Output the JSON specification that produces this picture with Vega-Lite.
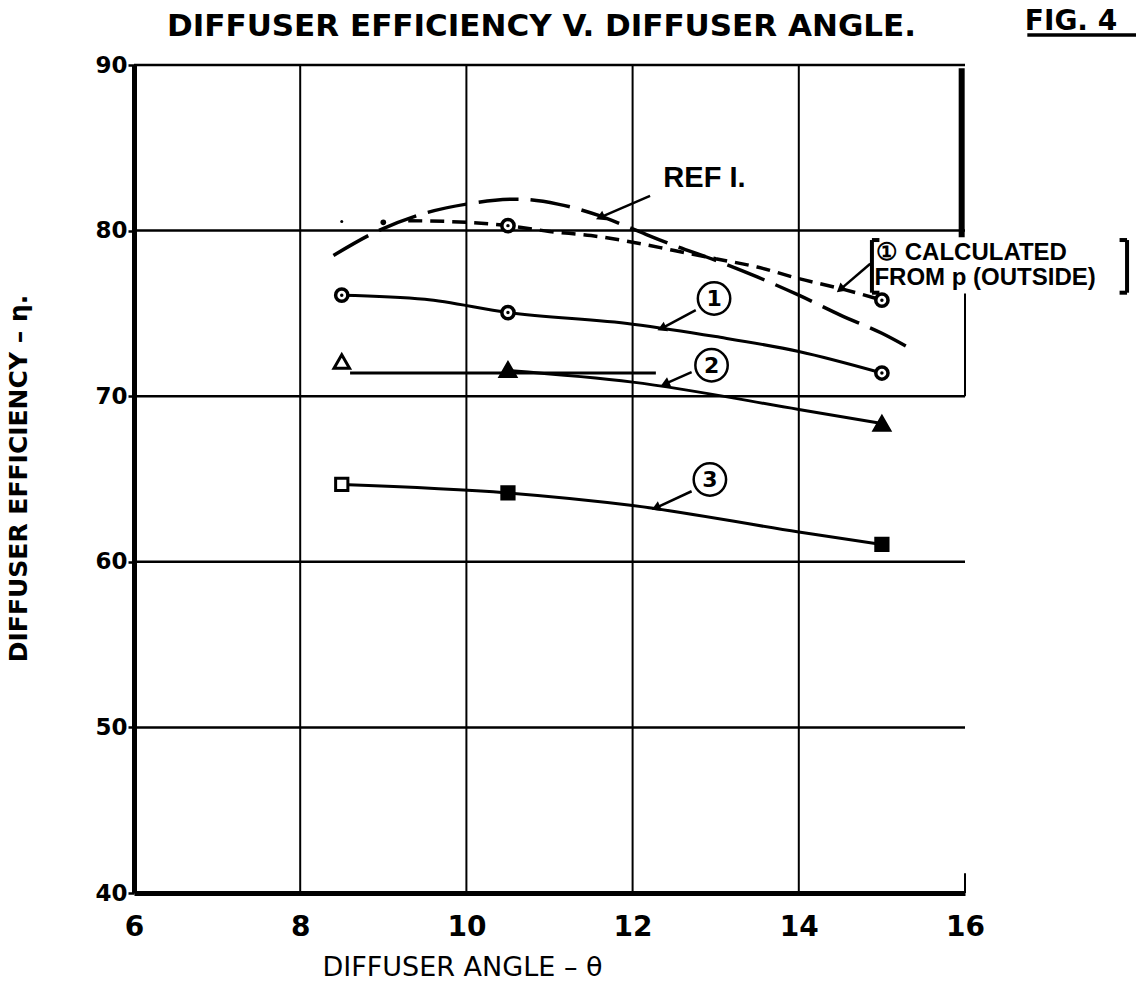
{
  "$schema": "https://vega.github.io/schema/vega-lite/v6.json",
  "width": 831,
  "height": 828,
  "autosize": {"type": "none"},
  "padding": {"left": 134, "top": 65, "right": 171, "bottom": 94},
  "background": "white",
  "datasets": {
    "gridx": [{"angle": 8}, {"angle": 10}, {"angle": 12}, {"angle": 14}],
    "gridy": [{"eff": 50}, {"eff": 60}, {"eff": 70}, {"eff": 80}, {"eff": 90}],
    "edge": [{"angle": 16, "eff": 70, "eff2": 76.2}, {"angle": 16, "eff": 40, "eff2": 41.2}],
    "bar": [{"angle": 15.96, "eff": 79.6, "eff2": 89.8}],
    "curves": [
      {"series": "1", "angle": 8.5, "eff": 76.1},
      {"series": "1", "angle": 9.5, "eff": 75.85},
      {"series": "1", "angle": 10.5, "eff": 75.05},
      {"series": "1", "angle": 12, "eff": 74.35},
      {"series": "1", "angle": 13, "eff": 73.6},
      {"series": "1", "angle": 14, "eff": 72.7},
      {"series": "1", "angle": 15, "eff": 71.4},
      {"series": "2", "angle": 10.5, "eff": 71.55},
      {"series": "2", "angle": 12, "eff": 70.85},
      {"series": "2", "angle": 14, "eff": 69.2},
      {"series": "2", "angle": 15, "eff": 68.35},
      {"series": "2h", "angle": 8.6, "eff": 71.4},
      {"series": "2h", "angle": 12.28, "eff": 71.4},
      {"series": "3", "angle": 8.5, "eff": 64.67},
      {"series": "3", "angle": 10.5, "eff": 64.16},
      {"series": "3", "angle": 12, "eff": 63.4},
      {"series": "3", "angle": 14, "eff": 61.8},
      {"series": "3", "angle": 15, "eff": 61.05}
    ],
    "ref": [
      {"angle": 8.4, "eff": 78.5},
      {"angle": 8.9, "eff": 79.9},
      {"angle": 9.4, "eff": 80.9},
      {"angle": 10.0, "eff": 81.6},
      {"angle": 10.6, "eff": 81.9},
      {"angle": 11.1, "eff": 81.6},
      {"angle": 11.6, "eff": 80.9},
      {"angle": 12.0, "eff": 80.1},
      {"angle": 12.5, "eff": 79.1},
      {"angle": 13.0, "eff": 78.2},
      {"angle": 13.5, "eff": 77.2},
      {"angle": 14.0, "eff": 76.1},
      {"angle": 14.5, "eff": 74.9},
      {"angle": 15.0, "eff": 73.8},
      {"angle": 15.3, "eff": 73.0}
    ],
    "calc": [
      {"angle": 9.3, "eff": 80.6},
      {"angle": 10.0, "eff": 80.5},
      {"angle": 10.5, "eff": 80.3},
      {"angle": 11.0, "eff": 79.95},
      {"angle": 11.5, "eff": 79.7},
      {"angle": 12.0, "eff": 79.3},
      {"angle": 12.5, "eff": 78.8},
      {"angle": 13.0, "eff": 78.3},
      {"angle": 13.5, "eff": 77.8},
      {"angle": 14.0, "eff": 77.1},
      {"angle": 14.5, "eff": 76.5},
      {"angle": 15.0, "eff": 75.8}
    ],
    "points": [
      {"series": "1", "angle": 8.5, "eff": 76.1},
      {"series": "1", "angle": 10.5, "eff": 75.05},
      {"series": "1", "angle": 15, "eff": 71.4},
      {"series": "2", "angle": 8.5, "eff": 72.1},
      {"series": "2", "angle": 10.5, "eff": 71.6},
      {"series": "2", "angle": 15, "eff": 68.35},
      {"series": "3", "angle": 8.5, "eff": 64.67},
      {"series": "3", "angle": 10.5, "eff": 64.16},
      {"series": "3", "angle": 15, "eff": 61.05},
      {"series": "calc", "angle": 10.5, "eff": 80.3},
      {"series": "calc", "angle": 15, "eff": 75.8}
    ],
    "calcdots": [
      {"kind": "big", "angle": 9.0, "eff": 80.5},
      {"kind": "small", "angle": 8.5, "eff": 80.55}
    ],
    "labels": [
      {"label": "1", "angle": 12.98, "eff": 75.9},
      {"label": "2", "angle": 12.95, "eff": 71.87},
      {"label": "3", "angle": 12.93, "eff": 64.97}
    ],
    "leaders": [
      {"name": "ref", "angle": 12.21, "eff": 82.1, "angle2": 11.61, "eff2": 80.8},
      {"name": "1", "angle": 12.76, "eff": 75.2, "angle2": 12.35, "eff2": 74.1},
      {"name": "2", "angle": 12.71, "eff": 71.46, "angle2": 12.39, "eff2": 70.75},
      {"name": "3", "angle": 12.71, "eff": 64.26, "angle2": 12.28, "eff2": 63.25},
      {"name": "calc", "angle": 14.86, "eff": 78.0, "angle2": 14.5, "eff2": 76.45}
    ],
    "titletext": [{"note": "DIFFUSER EFFICIENCY V. DIFFUSER ANGLE.", "angle": 10.904, "eff": 91.75}],
    "refnote": [{"note": "REF I.", "angle": 12.37, "eff": 82.63}],
    "calcnote": [
      {"note": "① CALCULATED", "angle": 14.93, "eff": 78.22},
      {"note": "FROM p (OUTSIDE)", "angle": 14.91, "eff": 76.71}
    ],
    "brackets": [
      {"angle": 14.88, "eff": 76.25, "angle2": 14.88, "eff2": 79.43},
      {"angle": 14.88, "eff": 79.43, "angle2": 14.97, "eff2": 79.43},
      {"angle": 14.88, "eff": 76.25, "angle2": 14.97, "eff2": 76.25},
      {"angle": 17.95, "eff": 76.25, "angle2": 17.95, "eff2": 79.43},
      {"angle": 17.86, "eff": 79.43, "angle2": 17.95, "eff2": 79.43},
      {"angle": 17.86, "eff": 76.25, "angle2": 17.95, "eff2": 76.25}
    ],
    "fig": [{"note": "FIG. 4", "angle": 16.72, "eff": 92.11}],
    "figline": [{"angle": 16.75, "angle2": 18.6, "eff": 91.81}]
  },
  "layer": [
    {
      "data": {"name": "gridx"},
      "mark": {"type": "rule", "stroke": "black", "strokeWidth": 2},
      "encoding": {
        "x": {
          "field": "angle", "type": "quantitative",
          "scale": {"domain": [6, 16], "nice": false, "zero": false},
          "axis": {
            "values": [6, 8, 10, 12, 14, 16],
            "format": "d",
            "title": "DIFFUSER ANGLE – θ",
            "grid": false, "ticks": false,
            "domainWidth": 5, "domainColor": "black",
            "labelFont": "DejaVu Sans", "labelFontWeight": "bold", "labelFontSize": 28,
            "labelColor": "black", "labelPadding": 20, "labelFlush": false, "labelOverlap": false,
            "titleFont": "DejaVu Sans", "titleFontWeight": "normal", "titleFontSize": 27,
            "titleColor": "black", "titleX": 328, "titleY": 82,
            "titleBaseline": "alphabetic", "titleAlign": "center"
          }
        }
      }
    },
    {
      "data": {"name": "gridy"},
      "mark": {"type": "rule", "stroke": "black", "strokeWidth": 2.5},
      "encoding": {
        "y": {
          "field": "eff", "type": "quantitative",
          "scale": {"domain": [40, 90], "nice": false, "zero": false},
          "axis": {
            "values": [40, 50, 60, 70, 80, 90],
            "title": "DIFFUSER EFFICIENCY – η.",
            "grid": false, "ticks": true, "tickSize": 6, "tickWidth": 2.5, "tickColor": "black",
            "domainWidth": 5, "domainColor": "black",
            "labelFont": "DejaVu Sans", "labelFontWeight": "bold", "labelFontSize": 23,
            "labelColor": "black", "labelPadding": 1, "labelFlush": false, "labelOverlap": false,
            "titleFont": "DejaVu Sans", "titleFontWeight": "bold", "titleFontSize": 25,
            "titleColor": "black", "titleX": -116, "titleY": 413, "titleAngle": -90,
            "titleAlign": "center", "titleBaseline": "middle"
          }
        }
      }
    },
    {
      "data": {"name": "edge"},
      "mark": {"type": "rule", "stroke": "black", "strokeWidth": 2},
      "encoding": {
        "x": {"field": "angle", "type": "quantitative", "scale": {"domain": [6, 16], "nice": false, "zero": false}},
        "y": {"field": "eff", "type": "quantitative", "scale": {"domain": [40, 90], "nice": false, "zero": false}},
        "y2": {"field": "eff2"}
      }
    },
    {
      "data": {"name": "bar"},
      "mark": {"type": "rule", "stroke": "black", "strokeWidth": 6},
      "encoding": {
        "x": {"field": "angle", "type": "quantitative", "scale": {"domain": [6, 16], "nice": false, "zero": false}},
        "y": {"field": "eff", "type": "quantitative", "scale": {"domain": [40, 90], "nice": false, "zero": false}},
        "y2": {"field": "eff2"}
      }
    },
    {
      "data": {"name": "curves"},
      "mark": {"type": "line", "stroke": "black", "strokeWidth": 3, "interpolate": "monotone"},
      "encoding": {
        "x": {"field": "angle", "type": "quantitative", "scale": {"domain": [6, 16], "nice": false, "zero": false}},
        "y": {"field": "eff", "type": "quantitative", "scale": {"domain": [40, 90], "nice": false, "zero": false}},
        "detail": {"field": "series", "type": "nominal"}
      }
    },
    {
      "data": {"name": "ref"},
      "mark": {"type": "line", "stroke": "black", "strokeWidth": 3.5, "strokeDash": [40, 12], "interpolate": "monotone"},
      "encoding": {
        "x": {"field": "angle", "type": "quantitative", "scale": {"domain": [6, 16], "nice": false, "zero": false}},
        "y": {"field": "eff", "type": "quantitative", "scale": {"domain": [40, 90], "nice": false, "zero": false}}
      }
    },
    {
      "data": {"name": "calc"},
      "mark": {"type": "line", "stroke": "black", "strokeWidth": 3.5, "strokeDash": [14, 8], "interpolate": "monotone"},
      "encoding": {
        "x": {"field": "angle", "type": "quantitative", "scale": {"domain": [6, 16], "nice": false, "zero": false}},
        "y": {"field": "eff", "type": "quantitative", "scale": {"domain": [40, 90], "nice": false, "zero": false}}
      }
    },
    {
      "data": {"name": "points"},
      "transform": [{"filter": "datum.series == '1' || datum.series == 'calc'"}],
      "mark": {"type": "point", "shape": "circle", "filled": true, "fill": "white", "stroke": "black", "strokeWidth": 3.5, "size": 150, "opacity": 1},
      "encoding": {
        "x": {"field": "angle", "type": "quantitative", "scale": {"domain": [6, 16], "nice": false, "zero": false}},
        "y": {"field": "eff", "type": "quantitative", "scale": {"domain": [40, 90], "nice": false, "zero": false}}
      }
    },
    {
      "data": {"name": "points"},
      "transform": [{"filter": "datum.series == '2'"}],
      "mark": {"type": "point", "shape": "triangle-up", "filled": true, "stroke": "black", "strokeWidth": 3, "size": 240, "opacity": 1},
      "encoding": {
        "x": {"field": "angle", "type": "quantitative", "scale": {"domain": [6, 16], "nice": false, "zero": false}},
        "y": {"field": "eff", "type": "quantitative", "scale": {"domain": [40, 90], "nice": false, "zero": false}},
        "fill": {"condition": {"test": "datum.angle > 9", "value": "black"}, "value": "white"}
      }
    },
    {
      "data": {"name": "points"},
      "transform": [{"filter": "datum.series == '3'"}],
      "mark": {"type": "point", "shape": "square", "filled": true, "stroke": "black", "strokeWidth": 3, "size": 150, "opacity": 1},
      "encoding": {
        "x": {"field": "angle", "type": "quantitative", "scale": {"domain": [6, 16], "nice": false, "zero": false}},
        "y": {"field": "eff", "type": "quantitative", "scale": {"domain": [40, 90], "nice": false, "zero": false}},
        "fill": {"condition": {"test": "datum.angle > 9", "value": "black"}, "value": "white"}
      }
    },
    {
      "data": {"name": "points"},
      "transform": [{"filter": "datum.series == '1' || datum.series == 'calc'"}],
      "mark": {"type": "point", "shape": "circle", "filled": true, "fill": "black", "size": 12, "opacity": 1},
      "encoding": {
        "x": {"field": "angle", "type": "quantitative", "scale": {"domain": [6, 16], "nice": false, "zero": false}},
        "y": {"field": "eff", "type": "quantitative", "scale": {"domain": [40, 90], "nice": false, "zero": false}}
      }
    },
    {
      "data": {"name": "calcdots"},
      "transform": [{"filter": "datum.kind == 'big'"}],
      "mark": {"type": "point", "shape": "circle", "filled": true, "fill": "black", "size": 32, "opacity": 1},
      "encoding": {
        "x": {"field": "angle", "type": "quantitative", "scale": {"domain": [6, 16], "nice": false, "zero": false}},
        "y": {"field": "eff", "type": "quantitative", "scale": {"domain": [40, 90], "nice": false, "zero": false}}
      }
    },
    {
      "data": {"name": "calcdots"},
      "transform": [{"filter": "datum.kind == 'small'"}],
      "mark": {"type": "point", "shape": "circle", "filled": true, "fill": "black", "size": 9, "opacity": 1},
      "encoding": {
        "x": {"field": "angle", "type": "quantitative", "scale": {"domain": [6, 16], "nice": false, "zero": false}},
        "y": {"field": "eff", "type": "quantitative", "scale": {"domain": [40, 90], "nice": false, "zero": false}}
      }
    },
    {
      "data": {"name": "leaders"},
      "mark": {"type": "rule", "stroke": "black", "strokeWidth": 2.5},
      "encoding": {
        "x": {"field": "angle", "type": "quantitative", "scale": {"domain": [6, 16], "nice": false, "zero": false}},
        "y": {"field": "eff", "type": "quantitative", "scale": {"domain": [40, 90], "nice": false, "zero": false}},
        "x2": {"field": "angle2"},
        "y2": {"field": "eff2"}
      }
    },
    {
      "data": {"name": "leaders"},
      "transform": [{"filter": "datum.name != 'calc'"}],
      "mark": {"type": "point", "shape": "triangle-up", "filled": true, "fill": "black", "size": 110, "angle": 246, "opacity": 1},
      "encoding": {
        "x": {"field": "angle2", "type": "quantitative", "scale": {"domain": [6, 16], "nice": false, "zero": false}},
        "y": {"field": "eff2", "type": "quantitative", "scale": {"domain": [40, 90], "nice": false, "zero": false}}
      }
    },
    {
      "data": {"name": "leaders"},
      "transform": [{"filter": "datum.name == 'calc'"}],
      "mark": {"type": "point", "shape": "triangle-up", "filled": true, "fill": "black", "size": 110, "angle": 230, "opacity": 1},
      "encoding": {
        "x": {"field": "angle2", "type": "quantitative", "scale": {"domain": [6, 16], "nice": false, "zero": false}},
        "y": {"field": "eff2", "type": "quantitative", "scale": {"domain": [40, 90], "nice": false, "zero": false}}
      }
    },
    {
      "data": {"name": "labels"},
      "mark": {"type": "point", "shape": "circle", "filled": true, "fill": "white", "stroke": "black", "strokeWidth": 2.5, "size": 1050, "opacity": 1},
      "encoding": {
        "x": {"field": "angle", "type": "quantitative", "scale": {"domain": [6, 16], "nice": false, "zero": false}},
        "y": {"field": "eff", "type": "quantitative", "scale": {"domain": [40, 90], "nice": false, "zero": false}}
      }
    },
    {
      "data": {"name": "labels"},
      "mark": {"type": "text", "font": "DejaVu Sans", "fontWeight": "bold", "fontSize": 22, "align": "center", "baseline": "middle", "dy": 1, "color": "black"},
      "encoding": {
        "x": {"field": "angle", "type": "quantitative", "scale": {"domain": [6, 16], "nice": false, "zero": false}},
        "y": {"field": "eff", "type": "quantitative", "scale": {"domain": [40, 90], "nice": false, "zero": false}},
        "text": {"field": "label"}
      }
    },
    {
      "data": {"name": "titletext"},
      "mark": {"type": "text", "font": "DejaVu Sans", "fontWeight": "bold", "fontSize": 31, "align": "center", "baseline": "alphabetic", "color": "black"},
      "encoding": {
        "x": {"field": "angle", "type": "quantitative", "scale": {"domain": [6, 16], "nice": false, "zero": false}},
        "y": {"field": "eff", "type": "quantitative", "scale": {"domain": [40, 90], "nice": false, "zero": false}},
        "text": {"field": "note"}
      }
    },
    {
      "data": {"name": "refnote"},
      "mark": {"type": "text", "font": "Liberation Sans", "fontWeight": "bold", "fontSize": 29, "align": "left", "baseline": "alphabetic", "color": "black"},
      "encoding": {
        "x": {"field": "angle", "type": "quantitative", "scale": {"domain": [6, 16], "nice": false, "zero": false}},
        "y": {"field": "eff", "type": "quantitative", "scale": {"domain": [40, 90], "nice": false, "zero": false}},
        "text": {"field": "note"}
      }
    },
    {
      "data": {"name": "calcnote"},
      "mark": {"type": "text", "font": "Liberation Sans", "fontWeight": "bold", "fontSize": 24, "align": "left", "baseline": "alphabetic", "color": "black"},
      "encoding": {
        "x": {"field": "angle", "type": "quantitative", "scale": {"domain": [6, 16], "nice": false, "zero": false}},
        "y": {"field": "eff", "type": "quantitative", "scale": {"domain": [40, 90], "nice": false, "zero": false}},
        "text": {"field": "note"}
      }
    },
    {
      "data": {"name": "brackets"},
      "mark": {"type": "rule", "stroke": "black", "strokeWidth": 4},
      "encoding": {
        "x": {"field": "angle", "type": "quantitative", "scale": {"domain": [6, 16], "nice": false, "zero": false}},
        "y": {"field": "eff", "type": "quantitative", "scale": {"domain": [40, 90], "nice": false, "zero": false}},
        "x2": {"field": "angle2"},
        "y2": {"field": "eff2"}
      }
    },
    {
      "data": {"name": "fig"},
      "mark": {"type": "text", "font": "DejaVu Sans", "fontWeight": "bold", "fontSize": 28, "align": "left", "baseline": "alphabetic", "color": "black"},
      "encoding": {
        "x": {"field": "angle", "type": "quantitative", "scale": {"domain": [6, 16], "nice": false, "zero": false}},
        "y": {"field": "eff", "type": "quantitative", "scale": {"domain": [40, 90], "nice": false, "zero": false}},
        "text": {"field": "note"}
      }
    },
    {
      "data": {"name": "figline"},
      "mark": {"type": "rule", "stroke": "black", "strokeWidth": 3.5},
      "encoding": {
        "x": {"field": "angle", "type": "quantitative", "scale": {"domain": [6, 16], "nice": false, "zero": false}},
        "y": {"field": "eff", "type": "quantitative", "scale": {"domain": [40, 90], "nice": false, "zero": false}},
        "x2": {"field": "angle2"}
      }
    }
  ],
  "config": {
    "view": {"stroke": null},
    "axis": {"grid": false}
  }
}
